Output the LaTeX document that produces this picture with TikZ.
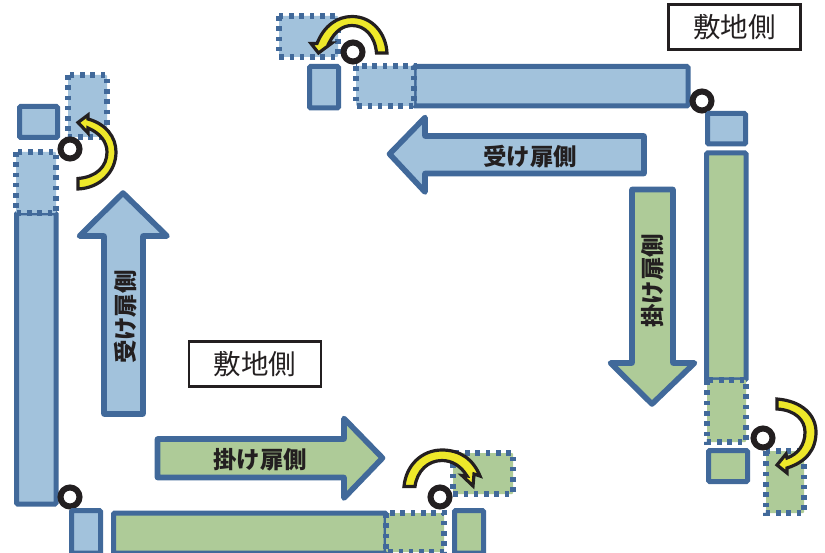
\documentclass[tikz,border=0pt]{standalone}
\usepackage{fontspec}
\newfontfamily\jp{Noto Sans CJK JP}
\tikzset{
  x=1pt,y=-1pt,
  solidblue/.style={draw=edgeblue,fill=fillblue,line width=5pt,rounded corners=1.2pt},
  solidgreen/.style={draw=edgeblue,fill=fillgreen,line width=5pt,rounded corners=1.2pt},
  dotline/.style={draw=edgeblue,line width=5.4pt,dash pattern=on 4.6pt off 5.7pt},
  bigblue/.style={draw=edgeblue,fill=fillblue,line width=5.6pt,line join=round},
  biggreen/.style={draw=edgeblue,fill=fillgreen,line width=5.6pt,line join=round},
  turn/.style={draw=inkblack,fill=turnyellow,line width=3.2pt,line join=miter},
  pivot/.style={draw=inkblack,fill=white,line width=6pt},
  sitebox/.style={draw=inkblack,fill=white,line width=2.4pt,minimum width=132pt,minimum height=45pt,inner sep=0pt,font=\jp\fontsize{27.5}{27.5}\selectfont,text=inkblack},
  doorlabel/.style={inner sep=0pt,font=\jp\bfseries\fontsize{23.5}{23.5}\selectfont,text=inkblack}
}
\definecolor{edgeblue}{HTML}{41699A}
\definecolor{fillblue}{HTML}{A2C2DC}
\definecolor{fillgreen}{HTML}{AECB98}
\definecolor{turnyellow}{HTML}{EEE82A}
\definecolor{inkblack}{HTML}{231F20}
\newcommand{\dotrect}[5]{%
  \fill[#1,rounded corners=1pt] (#2,#3) rectangle (#4,#5);
  \draw[dotline] (#2,#3) rectangle (#4,#5);}
\begin{document}
\begin{tikzpicture}
\useasboundingbox (0,0) rectangle (825,553);
% top door
\draw[solidblue] (309.5,66.5) rectangle (338.5,108);
\draw[solidblue] (414,66.5) rectangle (688,106);
\dotrect{fillblue}{356}{66}{414}{106}
\dotrect{fillblue}{279}{16}{338}{57}
\draw[turn] (376.5,53) .. controls (375,36) and (365,25.5) .. (352,25.5) .. controls (343,25.5) and (335,31) .. (329,43) -- (332,43) -- (318.5,53) -- (311,43.5) -- (317,43.5) .. controls (324,26) and (337,16.5) .. (352,16.5) .. controls (372,16.5) and (386,33) .. (387,53) -- cycle;
\draw[pivot] (353,52) circle (9.5);
% left door
\draw[solidblue] (19.5,106.5) rectangle (57.5,137.5);
\dotrect{fillblue}{68}{75}{107}{137}
\draw[solidblue] (16.5,213) rectangle (56,504);
\dotrect{fillblue}{16}{152}{56}{213}
\draw[turn] (78,178.5) .. controls (96,177) and (107,167) .. (107,152) .. controls (107,142) and (100,133) .. (88,128) -- (88,133) -- (78,122.5) -- (88,115) -- (88,119) .. controls (106,124) and (116,137) .. (116,152) .. controls (116,172) and (100,188) .. (78,189) -- cycle;
\draw[pivot] (70,149) circle (9.5);
% bottom door
\draw[pivot] (70,497) circle (9.5);
\draw[solidblue] (71.5,510.5) rectangle (100.5,553);
\draw[solidgreen] (113.5,513) rectangle (386,553);
\dotrect{fillgreen}{386}{513}{444}{552}
\draw[solidgreen] (454.5,510.5) rectangle (483.5,553);
\dotrect{fillgreen}{453}{453}{513}{494}
\draw[turn] (404,486.5) .. controls (406,465) and (422,450) .. (442,450) .. controls (460,450) and (473,459) .. (480,476) -- (474,474) -- (473,486) -- (462,475.5) -- (467,476) .. controls (461,466) and (452,460.5) .. (442,460.5) .. controls (428,460.5) and (417,471) .. (415,486.5) -- cycle;
\draw[pivot] (440,497) circle (9.5);
% right door
\draw[pivot] (702,101) circle (9.5);
\draw[solidblue] (707.5,113.5) rectangle (745.5,144);
\draw[solidgreen] (706.5,153) rectangle (746,380);
\dotrect{fillgreen}{707}{380}{746}{442}
\draw[solidgreen] (708.5,450.5) rectangle (747.5,481.5);
\dotrect{fillgreen}{766}{451}{804}{513}
\draw[turn] (777,399) .. controls (802,401) and (816,415) .. (816,432) .. controls (816,450) and (806,462) .. (787,468) -- (787,473) -- (777,465) -- (786,454) -- (787,458) .. controls (798,454) and (805,445) .. (805,432) .. controls (805,420) and (795,410) .. (777,409) -- cycle;
\draw[pivot] (763,438) circle (9.5);
% large arrows
\path[bigblue] (389.5,154) -- (425,117.5) -- (425,136) -- (644,136) -- (644,173.5) -- (425,173.5) -- (425,192) -- cycle;
\path[bigblue] (123,193) -- (167,236) -- (143,236) -- (143,414) -- (104,414) -- (104,236) -- (79.5,236) -- cycle;
\path[biggreen] (652,404) -- (610.5,363) -- (632,363) -- (632,189.5) -- (673,189.5) -- (673,363) -- (694.5,363) -- cycle;
\path[biggreen] (382.5,458) -- (344,418.5) -- (344,439) -- (157.5,439) -- (157.5,477.5) -- (344,477.5) -- (344,498) -- cycle;
% labels
\node[doorlabel] (lab1) at (530,157) {受け扉側};
\node[doorlabel,rotate=90] (lab2) at (126,317) {受け扉側};
\node[doorlabel,rotate=90] (lab3) at (653,281) {掛け扉側};
\node[doorlabel] (lab4) at (260,460) {掛け扉側};
\node[sitebox] (site1) at (734.5,27) {敷地側};
\node[sitebox] (site2) at (255,364) {敷地側};
\end{tikzpicture}
\end{document}
